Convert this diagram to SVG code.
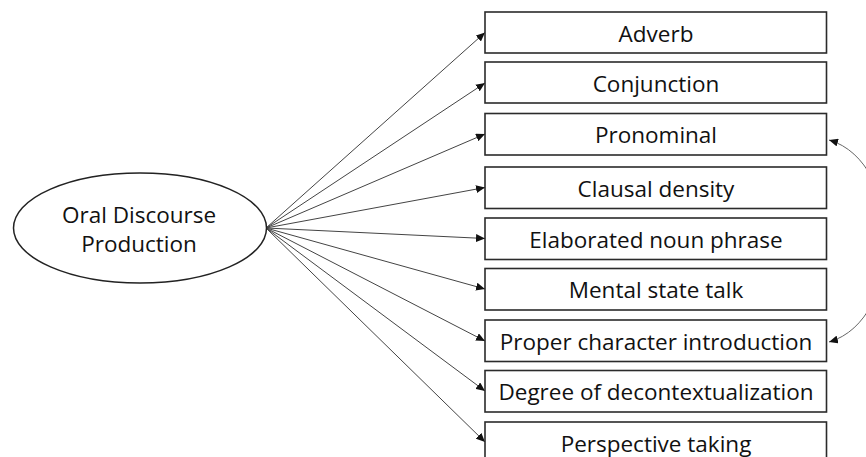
<svg xmlns="http://www.w3.org/2000/svg" width="866" height="457" viewBox="0 0 866 457">
  <defs>
    <marker id="arrow" markerUnits="userSpaceOnUse" markerWidth="10" markerHeight="8" refX="9" refY="4" orient="auto-start-reverse">
      <path d="M0,0 L9,4 L0,8 Z" fill="#111"/>
    </marker>
    <style>
      .box rect { fill: #fff; stroke: #2b2b2b; stroke-width: 1.6; }
      .box text, .latent text { font-family: "Open Sans", "Noto Sans", sans-serif; font-size: 22.5px; fill: #111; text-anchor: middle; }
      .latent ellipse { fill: #fff; stroke: #222; stroke-width: 1.5; }
      .edge { stroke: #444; stroke-width: 1; fill: none; marker-end: url(#arrow); }
      .cov { stroke: #666; stroke-width: 1; fill: none; marker-start: url(#arrow); marker-end: url(#arrow); }
    </style>
  </defs>
  <rect width="866" height="457" fill="#fff"/>

  <!-- factor loadings and residual covariance -->
  <g id="connectors">
    <line class="edge" x1="266" y1="228" x2="485" y2="32.5"/>
    <line class="edge" x1="266" y1="228" x2="485" y2="83"/>
    <line class="edge" x1="266" y1="228" x2="485" y2="134"/>
    <line class="edge" x1="266" y1="228" x2="485" y2="187.5"/>
    <line class="edge" x1="266" y1="228" x2="485" y2="238.5"/>
    <line class="edge" x1="266" y1="228" x2="485" y2="289"/>
    <line class="edge" x1="266" y1="228" x2="485" y2="341"/>
    <line class="edge" x1="266" y1="228" x2="485" y2="391"/>
    <line class="edge" x1="266" y1="228" x2="485" y2="442"/>
    <path class="cov" d="M829,140 C905,162 905,320 829,342"/>
  </g>

  <g id="oral-discourse" class="latent">
    <ellipse cx="140" cy="228" rx="126.5" ry="55"/>
    <text x="139" y="223">Oral Discourse</text>
    <text x="139" y="252">Production</text>
  </g>

  <g id="adverb" class="box">
    <rect x="485" y="12" width="341.5" height="41"/>
    <text x="656" y="41.5">Adverb</text>
  </g>
  <g id="conjunction" class="box">
    <rect x="485" y="62" width="341.5" height="41"/>
    <text x="656" y="91.5">Conjunction</text>
  </g>
  <g id="pronominal" class="box">
    <rect x="485" y="113.5" width="341.5" height="41.5"/>
    <text x="656" y="143">Pronominal</text>
  </g>
  <g id="clausal-density" class="box">
    <rect x="485" y="167" width="341.5" height="41.5"/>
    <text x="656" y="196.5">Clausal density</text>
  </g>
  <g id="elaborated-noun-phrase" class="box">
    <rect x="485" y="218" width="341.5" height="41.5"/>
    <text x="656" y="247.5">Elaborated noun phrase</text>
  </g>
  <g id="mental-state-talk" class="box">
    <rect x="485" y="268.5" width="341.5" height="41.5"/>
    <text x="656" y="298">Mental state talk</text>
  </g>
  <g id="proper-character-introduction" class="box">
    <rect x="485" y="320" width="341.5" height="41.5"/>
    <text x="656" y="349.5">Proper character introduction</text>
  </g>
  <g id="degree-of-decontextualization" class="box">
    <rect x="485" y="370.5" width="341.5" height="41.5"/>
    <text x="656" y="400">Degree of decontextualization</text>
  </g>
  <g id="perspective-taking" class="box">
    <rect x="485" y="422" width="341.5" height="41.5"/>
    <text x="656" y="451.5">Perspective taking</text>
  </g>
</svg>
